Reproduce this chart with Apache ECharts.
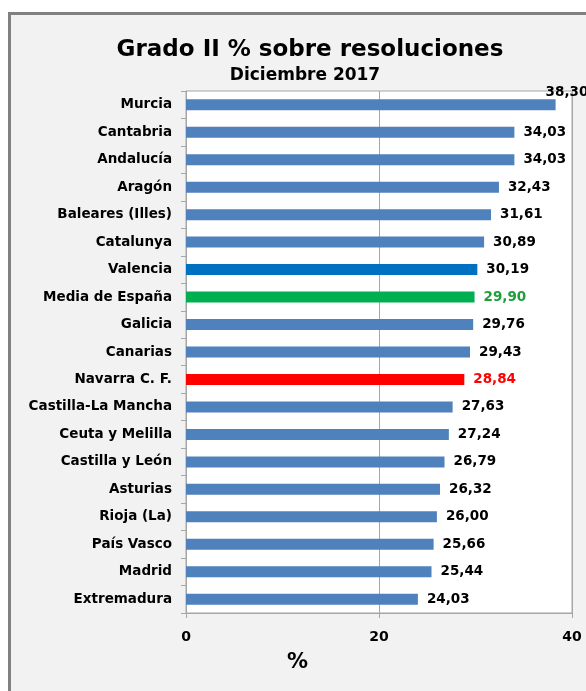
<!DOCTYPE html>
<html><head><meta charset="utf-8">
<script src="https://cdn.jsdelivr.net/npm/echarts@6/dist/echarts.min.js"></script>
<style>html,body{margin:0;padding:0;background:#fff}#c{width:586px;height:691px}</style>
</head><body><div id="c"></div>
<script>
const categories = ['Murcia','Cantabria','Andalucía','Aragón','Baleares (Illes)','Catalunya','Valencia','Media de España','Galicia','Canarias','Navarra C. F.','Castilla-La Mancha','Ceuta y Melilla','Castilla y León','Asturias','Rioja (La)','País Vasco','Madrid','Extremadura'];
const values = [38.30,34.03,34.03,32.43,31.61,30.89,30.19,29.90,29.76,29.43,28.84,27.63,27.24,26.79,26.32,26.00,25.66,25.44,24.03];
const xTicks = [0,20,40];

const highlight = {
  'Valencia': {bar:'#0070C0', text:'#000'},
  'Media de España': {bar:'#00B050', text:'#1f9e3a'},
  'Navarra C. F.': {bar:'#FF0000', text:'#FF0000'}
};
const font = '"DejaVu Sans", Arial, sans-serif';
const tfont = '"DejaVu Sans", Arial, sans-serif';
const data = values.map((v,i)=>{
  const h = highlight[categories[i]];
  const item = {value:v, itemStyle:{color: h? h.bar : '#4F81BD'}, label:{color: h? h.text : '#000'}};
  if (i===0) { item.label.offset = [-19,-12]; }
  return item;
});
const chart = echarts.init(document.getElementById('c'));
chart.setOption({
  backgroundColor:'#fff',
  animation:false,
  graphic:[
    {type:'rect', z:-10, shape:{x:9.5,y:13.5,width:600,height:700}, style:{fill:'#f2f2f2', stroke:'#808080', lineWidth:3}},
    {type:'text', left:287, top:652, style:{text:'%', font:'bold 21px '+font, fill:'#000'}}
  ],
  title:[
    {text:'Grado II % sobre resoluciones', left:305, top:34, textAlign:'center', textStyle:{fontFamily:tfont, fontWeight:'bold', fontSize:23, color:'#000'}},
    {text:'Diciembre 2017', left:300, top:62, textAlign:'center', textStyle:{fontFamily:tfont, fontWeight:'bold', fontSize:17, color:'#000'}}
  ],
  grid:{left:186, right:14, top:91, bottom:78, show:true, backgroundColor:'#fff', borderColor:'#a6a6a6', borderWidth:1},
  xAxis:{type:'value', min:0, max:40, interval:20,
    axisLine:{show:true, lineStyle:{color:'#a6a6a6'}},
    axisTick:{show:true, length:5, lineStyle:{color:'#a6a6a6'}},
    splitLine:{show:true, lineStyle:{color:'#a6a6a6', width:1}},
    axisLabel:{margin:17, fontFamily:font, fontWeight:'bold', fontSize:14, color:'#000', formatter:v=>String(v)}
  },
  yAxis:{type:'category', data:categories, inverse:true,
    axisLine:{show:true, lineStyle:{color:'#a6a6a6'}},
    axisTick:{show:true, length:5, lineStyle:{color:'#a6a6a6'}},
    axisLabel:{margin:14, fontFamily:font, fontWeight:'bold', fontSize:13.5, color:'#000'}
  },
  series:[{type:'bar', data:data, barWidth:11,
    label:{show:true, position:'right', distance:9, fontFamily:font, fontWeight:'bold', fontSize:13.5,
      formatter:p=>p.value.toFixed(2).replace('.',',')}
  }]
});
</script></body></html>
